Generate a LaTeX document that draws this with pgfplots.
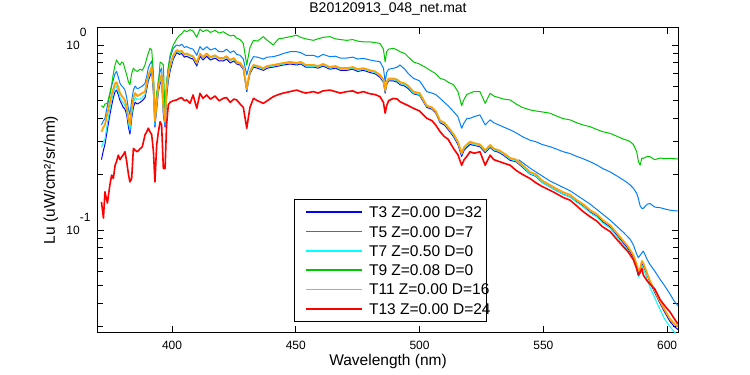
\documentclass[border=0pt]{standalone}
\usepackage{pgfplots}
\pgfplotsset{compat=1.18}
\usepackage{pgfplotstable}
\usepackage{fontspec}
\setmainfont{Liberation Sans}
\definecolor{cTthree}{RGB}{0,0,255}
\definecolor{cTfive}{RGB}{0,128,255}
\definecolor{cTseven}{RGB}{0,255,255}
\definecolor{cTnine}{RGB}{0,200,0}
\definecolor{cTeleven}{RGB}{255,160,0}
\definecolor{cTthirteen}{RGB}{255,0,0}
\pgfplotstableread{
wl t3 t5 t7 t9 t11 t13
371.5 0.24 0.37 0.28 0.47 0.34 0.142
372.3 0.27 0.39 0.30 0.46 0.36 0.116
372.9 0.29 0.40 0.31 0.48 0.37 0.161
373.9 0.35 0.47 0.38 0.484 0.43 0.14
374.9 0.42 0.54 0.45 0.55 0.49 0.175
375.6 0.47 0.60 0.50 0.608 0.54 0.198
376.3 0.52 0.65 0.55 0.70 0.58 0.19
377.0 0.56 0.70 0.59 0.78 0.62 0.224
377.6 0.57 0.72 0.60 0.83 0.63 0.235
378.3 0.54 0.67 0.56 0.80 0.59 0.254
379.0 0.50 0.62 0.52 0.78 0.55 0.24
379.7 0.48 0.60 0.50 0.81 0.53 0.249
380.3 0.46 0.59 0.49 0.80 0.52 0.255
381.0 0.45 0.57 0.47 0.74 0.50 0.265
381.7 0.42 0.52 0.44 0.69 0.46 0.234
382.4 0.36 0.45 0.38 0.63 0.40 0.20
383.0 0.33 0.42 0.345 0.61 0.37 0.182
383.7 0.40 0.50 0.42 0.70 0.45 0.19
384.4 0.46 0.57 0.49 0.75 0.52 0.276
385.1 0.49 0.60 0.52 0.73 0.55 0.27
386.0 0.48 0.58 0.51 0.72 0.53 0.265
387.1 0.49 0.59 0.51 0.74 0.54 0.275
388.0 0.50 0.60 0.52 0.73 0.55 0.282
389.1 0.52 0.62 0.54 0.78 0.56 0.327
389.8 0.58 0.68 0.60 0.85 0.63 0.34
390.4 0.64 0.75 0.66 0.90 0.69 0.355
391.1 0.68 0.79 0.70 0.96 0.72 0.34
391.8 0.72 0.82 0.74 0.94 0.76 0.327
392.5 0.55 0.66 0.58 0.70 0.61 0.265
393.1 0.36 0.42 0.37 0.42 0.39 0.182
393.8 0.45 0.53 0.47 0.55 0.49 0.288
394.5 0.56 0.65 0.58 0.61 0.60 0.34
395.2 0.62 0.72 0.64 0.81 0.66 0.385
395.8 0.64 0.75 0.66 0.80 0.69 0.37
396.5 0.42 0.50 0.44 0.78 0.46 0.215
397.2 0.36 0.42 0.37 0.42 0.39 0.215
397.8 0.52 0.63 0.55 0.62 0.58 0.37
398.5 0.64 0.76 0.67 0.75 0.70 0.474
399.2 0.72 0.85 0.75 0.88 0.78 0.49
400.5 0.84 0.96 0.86 1.00 0.88 0.50
401.9 0.91 1.00 0.93 1.08 0.94 0.505
403.0 0.89 0.99 0.91 1.13 0.92 0.515
403.9 0.90 1.01 0.92 1.15 0.93 0.52
405.0 0.86 0.97 0.88 1.20 0.89 0.50
405.9 0.87 0.98 0.89 1.18 0.90 0.505
407.3 0.85 0.96 0.87 1.21 0.88 0.484
408.5 0.84 0.95 0.86 1.19 0.87 0.537
410.0 0.77 0.88 0.79 1.10 0.80 0.455
411.3 0.87 0.98 0.89 1.22 0.90 0.548
412.5 0.83 0.94 0.85 1.18 0.86 0.515
414.0 0.87 0.98 0.89 1.21 0.90 0.537
415.5 0.83 0.94 0.85 1.17 0.86 0.51
417.4 0.85 0.96 0.87 1.20 0.88 0.53
419.0 0.82 0.92 0.84 1.16 0.85 0.50
420.7 0.82 0.92 0.84 1.18 0.85 0.515
422.0 0.84 0.95 0.86 1.15 0.87 0.52
423.5 0.80 0.91 0.82 1.12 0.83 0.49
425.0 0.82 0.93 0.84 1.13 0.85 0.51
426.1 0.79 0.89 0.80 1.09 0.81 0.505
427.5 0.78 0.88 0.79 1.07 0.80 0.48
428.8 0.74 0.84 0.75 1.02 0.76 0.46
430.2 0.56 0.69 0.57 0.78 0.58 0.355
430.9 0.64 0.75 0.65 0.88 0.66 0.41
431.5 0.70 0.80 0.71 0.97 0.72 0.46
432.9 0.76 0.865 0.77 1.06 0.78 0.515
434.5 0.75 0.86 0.76 1.05 0.77 0.50
436.9 0.73 0.84 0.74 1.11 0.75 0.484
438.5 0.75 0.86 0.76 1.06 0.77 0.50
440.9 0.76 0.865 0.77 1.00 0.78 0.526
443.0 0.77 0.88 0.78 1.08 0.79 0.54
445.0 0.78 0.90 0.79 1.09 0.80 0.55
447.7 0.79 0.92 0.80 1.11 0.81 0.56
450.4 0.78 0.92 0.79 1.13 0.80 0.571
452.0 0.79 0.91 0.80 1.10 0.81 0.56
454.0 0.76 0.88 0.77 1.08 0.78 0.55
457.1 0.76 0.88 0.77 1.06 0.78 0.56
459.0 0.75 0.86 0.76 1.08 0.77 0.55
461.0 0.77 0.89 0.78 1.10 0.79 0.565
463.8 0.74 0.865 0.75 1.11 0.76 0.571
466.0 0.75 0.87 0.76 1.08 0.77 0.56
468.0 0.73 0.85 0.74 1.07 0.75 0.55
470.6 0.73 0.85 0.74 1.06 0.75 0.56
473.0 0.74 0.86 0.75 1.07 0.76 0.565
475.0 0.72 0.84 0.73 1.05 0.74 0.55
477.3 0.73 0.847 0.74 1.04 0.75 0.56
480.0 0.71 0.83 0.72 1.04 0.73 0.545
482.0 0.70 0.82 0.71 1.03 0.72 0.54
484.0 0.67 0.813 0.68 1.02 0.69 0.526
485.4 0.63 0.75 0.64 0.95 0.65 0.49
486.1 0.55 0.634 0.56 0.81 0.57 0.428
486.7 0.61 0.71 0.62 0.92 0.63 0.47
487.5 0.64 0.74 0.65 0.95 0.66 0.50
489.4 0.64 0.748 0.65 0.96 0.66 0.515
491.0 0.63 0.76 0.64 0.94 0.65 0.51
492.1 0.61 0.78 0.62 0.92 0.63 0.494
494.0 0.60 0.74 0.61 0.90 0.62 0.48
495.5 0.58 0.70 0.59 0.86 0.60 0.47
497.5 0.545 0.661 0.55 0.81 0.56 0.455
500.0 0.535 0.64 0.54 0.79 0.55 0.44
502.9 0.46 0.56 0.465 0.75 0.47 0.402
505.0 0.45 0.55 0.455 0.72 0.46 0.39
506.5 0.43 0.54 0.435 0.70 0.44 0.37
508.3 0.38 0.515 0.385 0.66 0.39 0.34
510.0 0.37 0.49 0.375 0.65 0.38 0.32
511.5 0.35 0.47 0.355 0.63 0.36 0.31
513.7 0.32 0.437 0.325 0.61 0.33 0.276
515.5 0.29 0.41 0.295 0.56 0.30 0.255
517.0 0.25 0.355 0.256 0.47 0.26 0.224
518.0 0.27 0.38 0.276 0.51 0.28 0.24
519.1 0.28 0.40 0.286 0.54 0.29 0.25
520.4 0.29 0.402 0.296 0.55 0.30 0.265
522.0 0.287 0.41 0.29 0.56 0.295 0.26
524.4 0.282 0.419 0.285 0.56 0.29 0.265
526.5 0.262 0.37 0.266 0.484 0.27 0.224
528.5 0.28 0.394 0.284 0.548 0.288 0.254
530.0 0.268 0.38 0.271 0.53 0.275 0.24
532.0 0.263 0.37 0.266 0.52 0.27 0.235
534.0 0.253 0.36 0.256 0.51 0.26 0.23
536.6 0.238 0.348 0.241 0.505 0.245 0.224
539.0 0.234 0.335 0.236 0.48 0.24 0.21
541.5 0.219 0.32 0.221 0.46 0.225 0.20
544.6 0.201 0.306 0.202 0.446 0.206 0.19
547.0 0.195 0.30 0.196 0.44 0.20 0.18
549.5 0.181 0.29 0.181 0.435 0.185 0.172
552.7 0.171 0.282 0.171 0.428 0.175 0.164
555.0 0.164 0.275 0.164 0.415 0.168 0.158
558.0 0.156 0.265 0.156 0.40 0.16 0.15
560.8 0.151 0.259 0.151 0.394 0.155 0.145
563.5 0.142 0.25 0.141 0.38 0.145 0.135
566.0 0.135 0.243 0.134 0.37 0.138 0.126
568.9 0.125 0.234 0.124 0.362 0.128 0.118
571.5 0.119 0.225 0.118 0.35 0.122 0.112
574.0 0.111 0.215 0.109 0.34 0.113 0.104
577.0 0.104 0.206 0.102 0.333 0.106 0.098
580.0 0.093 0.195 0.091 0.32 0.095 0.088
582.4 0.085 0.186 0.083 0.31 0.087 0.081
584.0 0.080 0.18 0.078 0.305 0.082 0.077
585.1 0.076 0.175 0.074 0.30 0.078 0.0733
586.4 0.071 0.168 0.069 0.29 0.073 0.069
587.7 0.063 0.158 0.061 0.265 0.065 0.062
588.4 0.059 0.148 0.056 0.235 0.060 0.057
589.1 0.061 0.135 0.058 0.224 0.062 0.059
589.8 0.066 0.131 0.064 0.245 0.068 0.062
590.4 0.064 0.131 0.062 0.244 0.066 0.057
592.0 0.057 0.138 0.054 0.25 0.058 0.053
593.1 0.052 0.139 0.049 0.249 0.053 0.051
595.0 0.046 0.133 0.043 0.24 0.047 0.048
597.2 0.040 0.132 0.037 0.245 0.041 0.042
599.0 0.036 0.130 0.033 0.243 0.037 0.039
601.2 0.032 0.128 0.030 0.244 0.033 0.036
603.0 0.030 0.127 0.028 0.243 0.031 0.033
604.4 0.029 0.127 0.027 0.242 0.030 0.031
}\spec
\pgfplotstableread{
wl v
540.0 0.240
544.6 0.216
552.7 0.184
560.8 0.163
568.9 0.138
577.0 0.113
582.4 0.097
585.1 0.089
586.4 0.083
587.7 0.074
588.4 0.071
589.1 0.073
590.4 0.077
592.0 0.069
593.1 0.065
595.0 0.060
597.2 0.054
599.0 0.050
601.2 0.045
603.0 0.041
604.4 0.039
}\extra
\begin{document}
\begin{tikzpicture}
\path[use as bounding box, fill=white] (-98bp,-43bp) rectangle (652bp,332bp);
\begin{axis}[
  at={(0,0)}, anchor=south west,
  scale only axis, width=580bp, height=304bp,
  xmin=370.1, xmax=604.4,
  ymode=log, ymin=0.0281, ymax=1.236,
  xtick={400,450,500,550,600},
  xticklabels={400,450,500,550,600},
  ytick={0.1,1},
  yticklabels={10\rlap{\raisebox{13bp}[0pt][0pt]{-1}},10\rlap{\raisebox{13bp}[0pt][0pt]{0}}},
  minor ytick={0.03,0.04,0.05,0.06,0.07,0.08,0.09,0.2,0.3,0.4,0.5,0.6,0.7,0.8,0.9},
  tick align=inside,
  major tick length=6bp, minor tick length=5bp,
  axis line style={line width=1bp},
  every tick/.style={black, line width=1bp},
  tick label style={font=\fontsize{12bp}{14bp}\selectfont},
  xticklabel style={inner sep=0pt, anchor=north, yshift=-8.7bp},
  yticklabel style={inner sep=0pt, anchor=east, xshift=-18bp},
  title={B20120913\_048\_net.mat},
  title style={font=\fontsize{14bp}{17bp}\selectfont, at={(0.5,1)}, anchor=base, yshift=9.7bp, inner sep=0pt},
  xlabel={Wavelength (nm)},
  xlabel style={font=\fontsize{15.5bp}{18bp}\selectfont, at={(0.5,0)}, anchor=base, yshift=-33bp, inner sep=0pt},
  ylabel={Lu (uW/cm²/sr/nm)},
  ylabel style={font=\fontsize{15.5bp}{18bp}\selectfont, at={([xshift=-43bp]axis description cs:0,0.5)}, anchor=base, rotate=0, inner sep=0pt},
  no markers,
  every axis plot/.append style={line join=round},
  legend cell align=left,
  legend image code/.code={\draw[#1] (0bp,0bp) -- (56bp,0bp);},
  legend image post style={line width=1.6bp},
  legend style={
    at={(0.3379,0.0329)}, anchor=south west,
    draw=black, line width=1bp, fill=white,
    inner xsep=11bp, inner ysep=6.3bp,
    row sep=6.3bp,
    font=\fontsize{15.5bp}{18bp}\selectfont,
    nodes={inner xsep=6bp, inner ysep=0bp, text height=12bp, text depth=1bp},
  },
]
\addplot[cTthree, line width=1bp] table[x=wl,y=t3]{\spec};
\addplot[cTfive, line width=1bp] table[x=wl,y=t5]{\spec};
\addplot[cTseven, line width=1bp] table[x=wl,y=t7]{\spec};
\addplot[cTnine, line width=1bp] table[x=wl,y=t9]{\spec};
\addplot[cTeleven, line width=1.8bp] table[x=wl,y=t11]{\spec};
\addplot[cTthirteen, line width=1.6bp] table[x=wl,y=t13]{\spec};
\addplot[cTfive, line width=1bp, forget plot] table[x=wl,y=v]{\extra};
\legend{\makebox[100bp][l]{T3 Z=0.00 D=32},\makebox[100bp][l]{T5 Z=0.00 D=7},\makebox[100bp][l]{T7 Z=0.50 D=0},\makebox[100bp][l]{T9 Z=0.08 D=0},\makebox[100bp][l]{T11 Z=0.00 D=16},\makebox[100bp][l]{T13 Z=0.00 D=24}}
\end{axis}
\end{tikzpicture}
\end{document}
